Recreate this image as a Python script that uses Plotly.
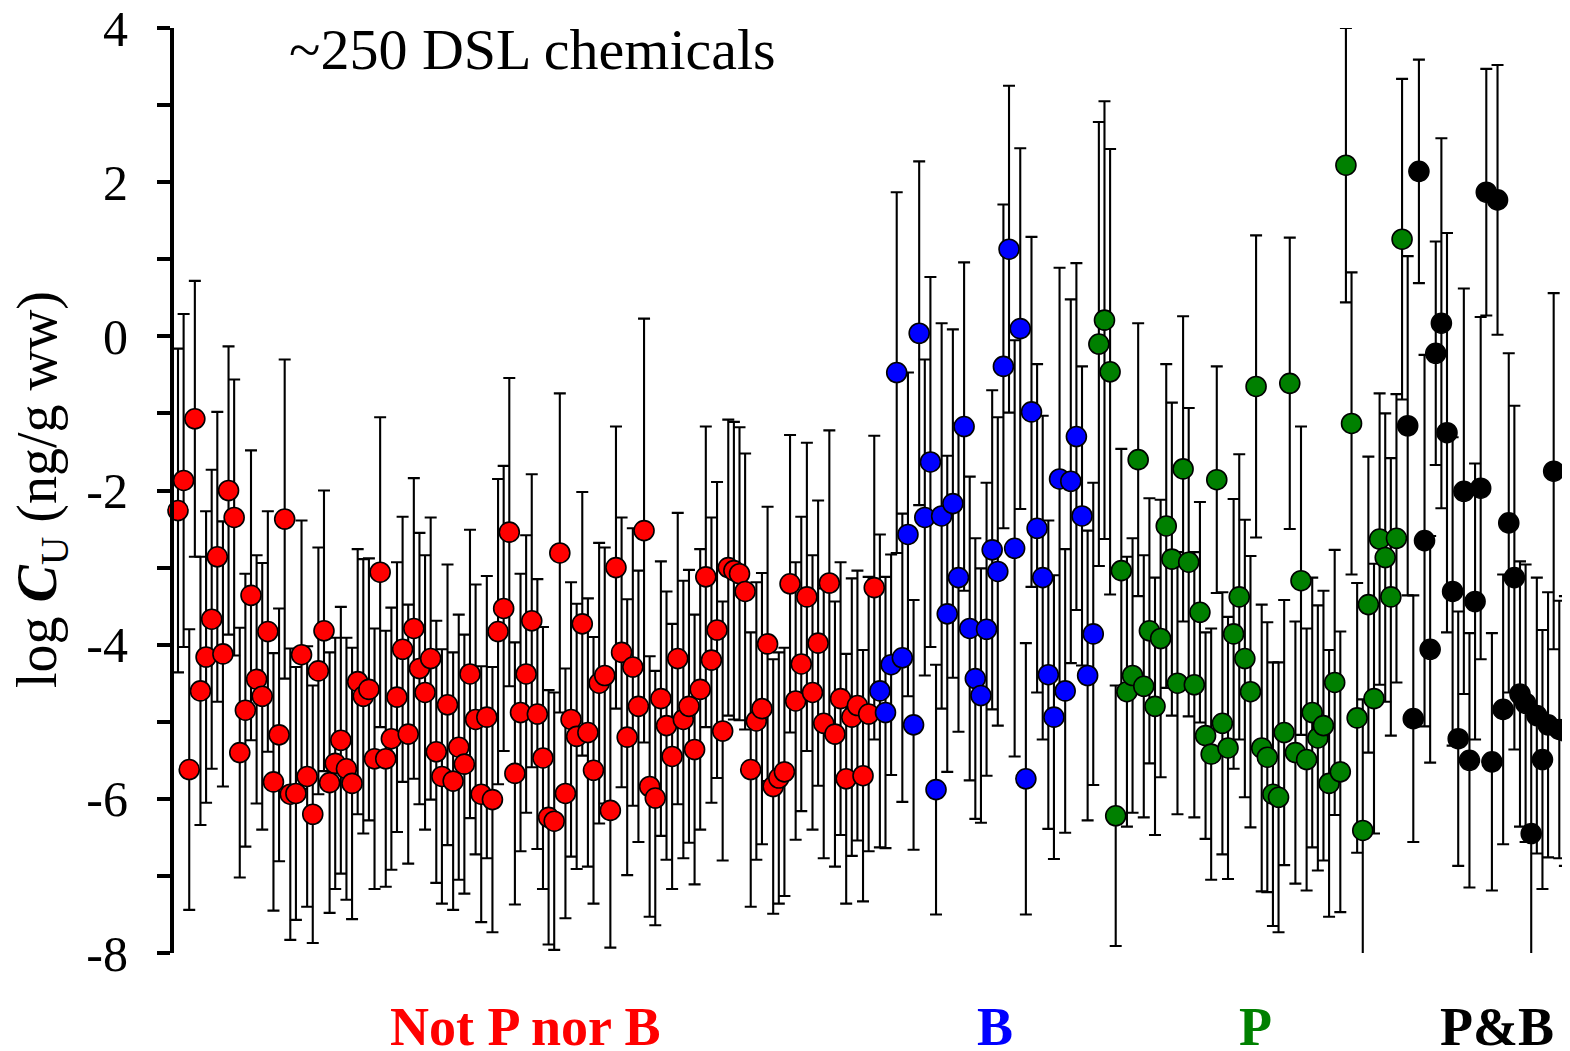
import plotly.graph_objects as go

# ---- data ----
red_vals = [
    -2.26, -1.87, -5.62, -1.07, -4.6, -4.16, -3.67, -2.86, -4.12, -2.0, -2.35, -5.4, -4.85, -3.36, -4.45,
    -4.67, -3.83, -5.78, -5.17, -2.37, -5.94, -5.93, -4.13, -5.71, -6.2, -4.34, -3.82, -5.79, -5.54, -5.24, -5.61,
    -5.8, -4.48, -4.67, -4.58, -5.48, -3.06, -5.48, -5.22, -4.68, -4.06, -5.16, -3.79, -4.31, -4.62, -4.18,
    -5.39, -5.71, -4.78, -5.77, -5.33, -5.55, -4.38, -4.97, -5.94, -4.94, -6.01, -3.83, -3.53, -2.54, -5.67, -4.88,
    -4.38, -3.69, -4.9, -5.47, -6.24, -6.29, -2.81, -5.93, -4.97, -5.19, -3.73, -5.14, -5.63, -4.5, -4.4, -6.15,
    -3.0, -4.1, -5.2, -4.29, -4.8, -2.52, -5.84, -5.99, -4.7, -5.05, -5.45, -4.18, -4.97, -4.8, -5.36, -4.58, -3.12,
    -4.2, -3.81, -5.12, -3.0, -3.04, -3.08, -3.31, -5.62, -4.99, -4.83, -3.99, -5.84, -5.73, -5.65, -3.21, -4.73,
    -4.25, -3.38, -4.62, -3.98, -5.02, -3.2, -5.16, -4.7, -5.74, -4.94, -4.79, -5.7, -4.9, -3.26,
]
red_err = [
    2.1, 2.16, 1.82, 1.79, 1.74, 1.89, 1.94, 1.88, 1.72, 1.87, 1.79, 1.62, 1.77, 1.88, 1.61,
    1.73, 1.56, 1.67, 1.64, 2.07, 1.89, 1.64, 1.74, 1.69, 1.67, 1.6, 1.82, 1.69, 1.63, 1.73, 1.7,
    1.76, 1.72, 1.78, 1.7, 1.69, 2.01, 1.66, 1.7, 1.75, 1.72, 1.68, 1.95, 1.76, 1.78, 1.83,
    1.7, 1.65, 1.82, 1.67, 1.72, 1.68, 1.87, 1.75, 1.66, 1.83, 1.72, 1.98, 1.85, 2.0, 1.7, 1.8,
    1.8, 1.9, 1.75, 1.7, 1.65, 1.67, 2.07, 1.62, 1.78, 1.72, 1.71, 1.74, 1.73, 1.82, 1.66, 1.78,
    1.83, 1.75, 1.79, 1.8, 1.76, 2.75, 1.69, 1.65, 1.78, 1.74, 1.72, 1.89, 1.8, 1.77, 1.75, 1.82, 1.95,
    1.85, 1.92, 1.68, 1.92, 1.93, 1.9, 1.79, 1.78, 1.8, 1.76, 1.78, 1.65, 1.63, 1.61, 1.93, 1.8,
    1.91, 2.0, 1.78, 1.85, 1.75, 1.98, 1.72, 1.77, 1.62, 1.8, 1.75, 1.63, 1.78, 1.97,
]
blue_vals = [
    -4.6, -4.88, -4.26, -0.47, -4.17, -2.57, -5.04, 0.04, -2.35, -1.63, -5.88, -2.33, -3.6, -2.17, -3.13,
    -1.17, -3.79, -4.44, -4.66, -3.8, -2.77, -3.05, -0.39, 1.13, -2.75, 0.1, -5.74, -0.98, -2.49,
    -3.13, -4.39, -4.94, -1.85, -4.6, -1.88, -1.3, -2.33, -4.4, -3.86,
]
blue_err = [
    2.03, 1.76, 1.43, 2.34, 1.87, 2.1, 1.62, 2.23, 2.05, 2.4, 1.62, 2.5, 2.05, 2.26, 2.0,
    2.13, 1.97, 1.82, 1.65, 1.9, 2.07, 2.0, 2.1, 2.12, 2.7, 2.34, 1.76, 2.27, 2.13,
    2.1, 2.0, 1.84, 2.74, 1.84, 2.36, 2.25, 1.94, 1.88, 1.96,
]
green_vals = [
    -0.1, 0.21, -0.46, -6.22, -3.04, -4.61, -4.4, -1.6, -4.54, -3.82, -4.8, -3.92, -2.46, -2.89, -4.5,
    -1.72, -2.93, -4.52, -3.58, -5.18, -5.42, -1.86, -5.02, -5.34,
    -3.86, -3.38, -4.18, -4.61, -0.65, -5.34, -5.46, -5.94, -5.98, -5.14, -0.61, -5.4, -3.17, -5.49, -4.88,
    -5.21, -5.05, -5.8, -4.49, -5.65, 2.22, -1.13, -4.95, -6.41, -3.48, -4.7, -2.63, -2.87, -3.38, -2.62, 1.26,
]
green_err = [
    2.88, 2.84, 2.89, 1.69, 1.58, 1.75, 1.78, 1.77, 1.7, 1.72, 1.67, 1.8, 2.1, 2.03, 1.7,
    1.98, 2.0, 1.72, 1.43, 1.34, 1.63, 1.47, 1.7, 1.7,
    1.75, 1.85, 1.8, 1.76, 1.96, 1.86, 1.75, 1.71, 1.75, 1.72, 1.89, 1.7, 2.0, 1.7, 1.75,
    1.72, 1.75, 1.73, 1.72, 1.82, 1.78, 1.96, 1.75, 1.7, 1.92, 1.75, 1.89, 1.87, 1.8, 1.87, 2.08,
]
black_vals = [
    -1.16, -4.96, 2.14, -2.65, -4.06, -0.22, 0.17, -1.25, -3.31, -5.22, -2.01, -5.5, -3.44, -1.97, 1.87,
    -5.52, 1.77, -4.84, -2.42, -3.13, -4.64, -4.76, -6.45, -4.92, -5.49, -5.04, -1.75, -5.1, -5.12,
]
black_err = [
    2.2, 1.6, 1.45, 2.41, 1.47, 1.45, 2.4, 2.59, 2.0, 1.65, 2.63, 1.65, 1.79, 2.22, 1.6,
    1.67, 1.75, 1.75, 2.2, 2.23, 1.72, 1.8, 1.65, 1.79, 1.68, 1.72, 2.31, 1.67, 1.75,
]

groups = [
    ("Not P nor B", red_vals, red_err, "#FF0000"),
    ("B", blue_vals, blue_err, "#0000FF"),
    ("P", green_vals, green_err, "#008000"),
    ("P&B", black_vals, black_err, "#000000"),
]

y_major_vals = [-8, -6, -4, -2, 0, 2, 4]
y_major_text = ["-8", "-6", "-4", "-2", "0", "2", "4"]

label_x_px = [525, 995, 1255, 1497]

# ---- figure ----
fig = go.Figure()
SERIF = "Liberation Serif, Times New Roman, serif"

start = 0
positions = []
for name, vals, errs, col in groups:
    xs = list(range(start, start + len(vals)))
    positions.append(xs)
    start += len(vals)

# error bars first (all under the markers)
for (name, vals, errs, col), xs in zip(groups, positions):
    fig.add_trace(go.Scatter(
        x=xs, y=vals, mode="markers",
        marker=dict(size=1, color="rgba(0,0,0,0)"),
        error_y=dict(type="data", array=errs, symmetric=True, color="black",
                     thickness=2.1, width=6),
        showlegend=False, hoverinfo="skip", cliponaxis=False,
    ))
# markers
for (name, vals, errs, col), xs in zip(groups, positions):
    fig.add_trace(go.Scatter(
        x=xs, y=vals, mode="markers", name=name,
        marker=dict(size=20, color=col, line=dict(color="black", width=1.6)),
        showlegend=False, cliponaxis=False,
    ))

# page offset (default body margin of the html page)
OFF = 8
W, H = 1570, 1051
# plot area in screen pixels
SL, SR, ST, SB = 174, 1570, 28, 953
L = SL - OFF
T = ST - OFF
R = W - (SR - OFF)
B = H - (SB - OFF)
pw = SR - SL
ph = SB - ST
px_per = 5.615
x0 = -(178 - SL) / px_per
x1 = x0 + pw / px_per

fig.update_layout(
    width=W, height=H,
    margin=dict(l=L, r=R, t=T, b=B, pad=0, autoexpand=False),
    paper_bgcolor="white", plot_bgcolor="white",
    font=dict(family=SERIF, color="black"),
    xaxis=dict(range=[x0, x1], visible=False, showgrid=False, zeroline=False,
               automargin=False),
    yaxis=dict(
        range=[-8, 4], showgrid=False, zeroline=False, automargin=False,
        showline=True, linewidth=4, linecolor="black",
        ticks="outside", ticklen=13, tickwidth=4, tickcolor="black",
        tickvals=y_major_vals, ticktext=y_major_text,
        tickfont=dict(family=SERIF, size=50, color="black"),
        ticklabelstandoff=19,
        ticklabeloverflow="allow",
        minor=dict(dtick=1, ticks="outside", ticklen=13, tickwidth=4,
                   tickcolor="black", showgrid=False),
    ),
)

def sx(px):
    return (px - SL) / pw

def sy(py):
    return (SB - py) / ph

# y-axis title as annotation
fig.add_annotation(
    text="log <b><i>C</i></b><sub>U</sub> (ng/g ww)",
    xref="paper", yref="paper",
    x=sx(41), y=sy(490),
    textangle=-90, showarrow=False, xanchor="center", yanchor="middle",
    font=dict(family=SERIF, size=56, color="black"),
)
# top annotation
fig.add_annotation(
    text="~250 DSL chemicals",
    xref="paper", yref="paper",
    x=sx(532), y=sy(50),
    showarrow=False, xanchor="center", yanchor="middle",
    font=dict(family=SERIF, size=58, color="black"),
)
# group labels
for (name, vals, errs, col), lx in zip(groups, label_x_px):
    fig.add_annotation(
        text="<b>" + name.replace("&", "&amp;") + "</b>",
        xref="paper", yref="paper",
        x=sx(lx), y=sy(1027),
        showarrow=False, xanchor="center", yanchor="middle",
        font=dict(family=SERIF, size=54, color=col),
    )

fig.write_html("out.html")
